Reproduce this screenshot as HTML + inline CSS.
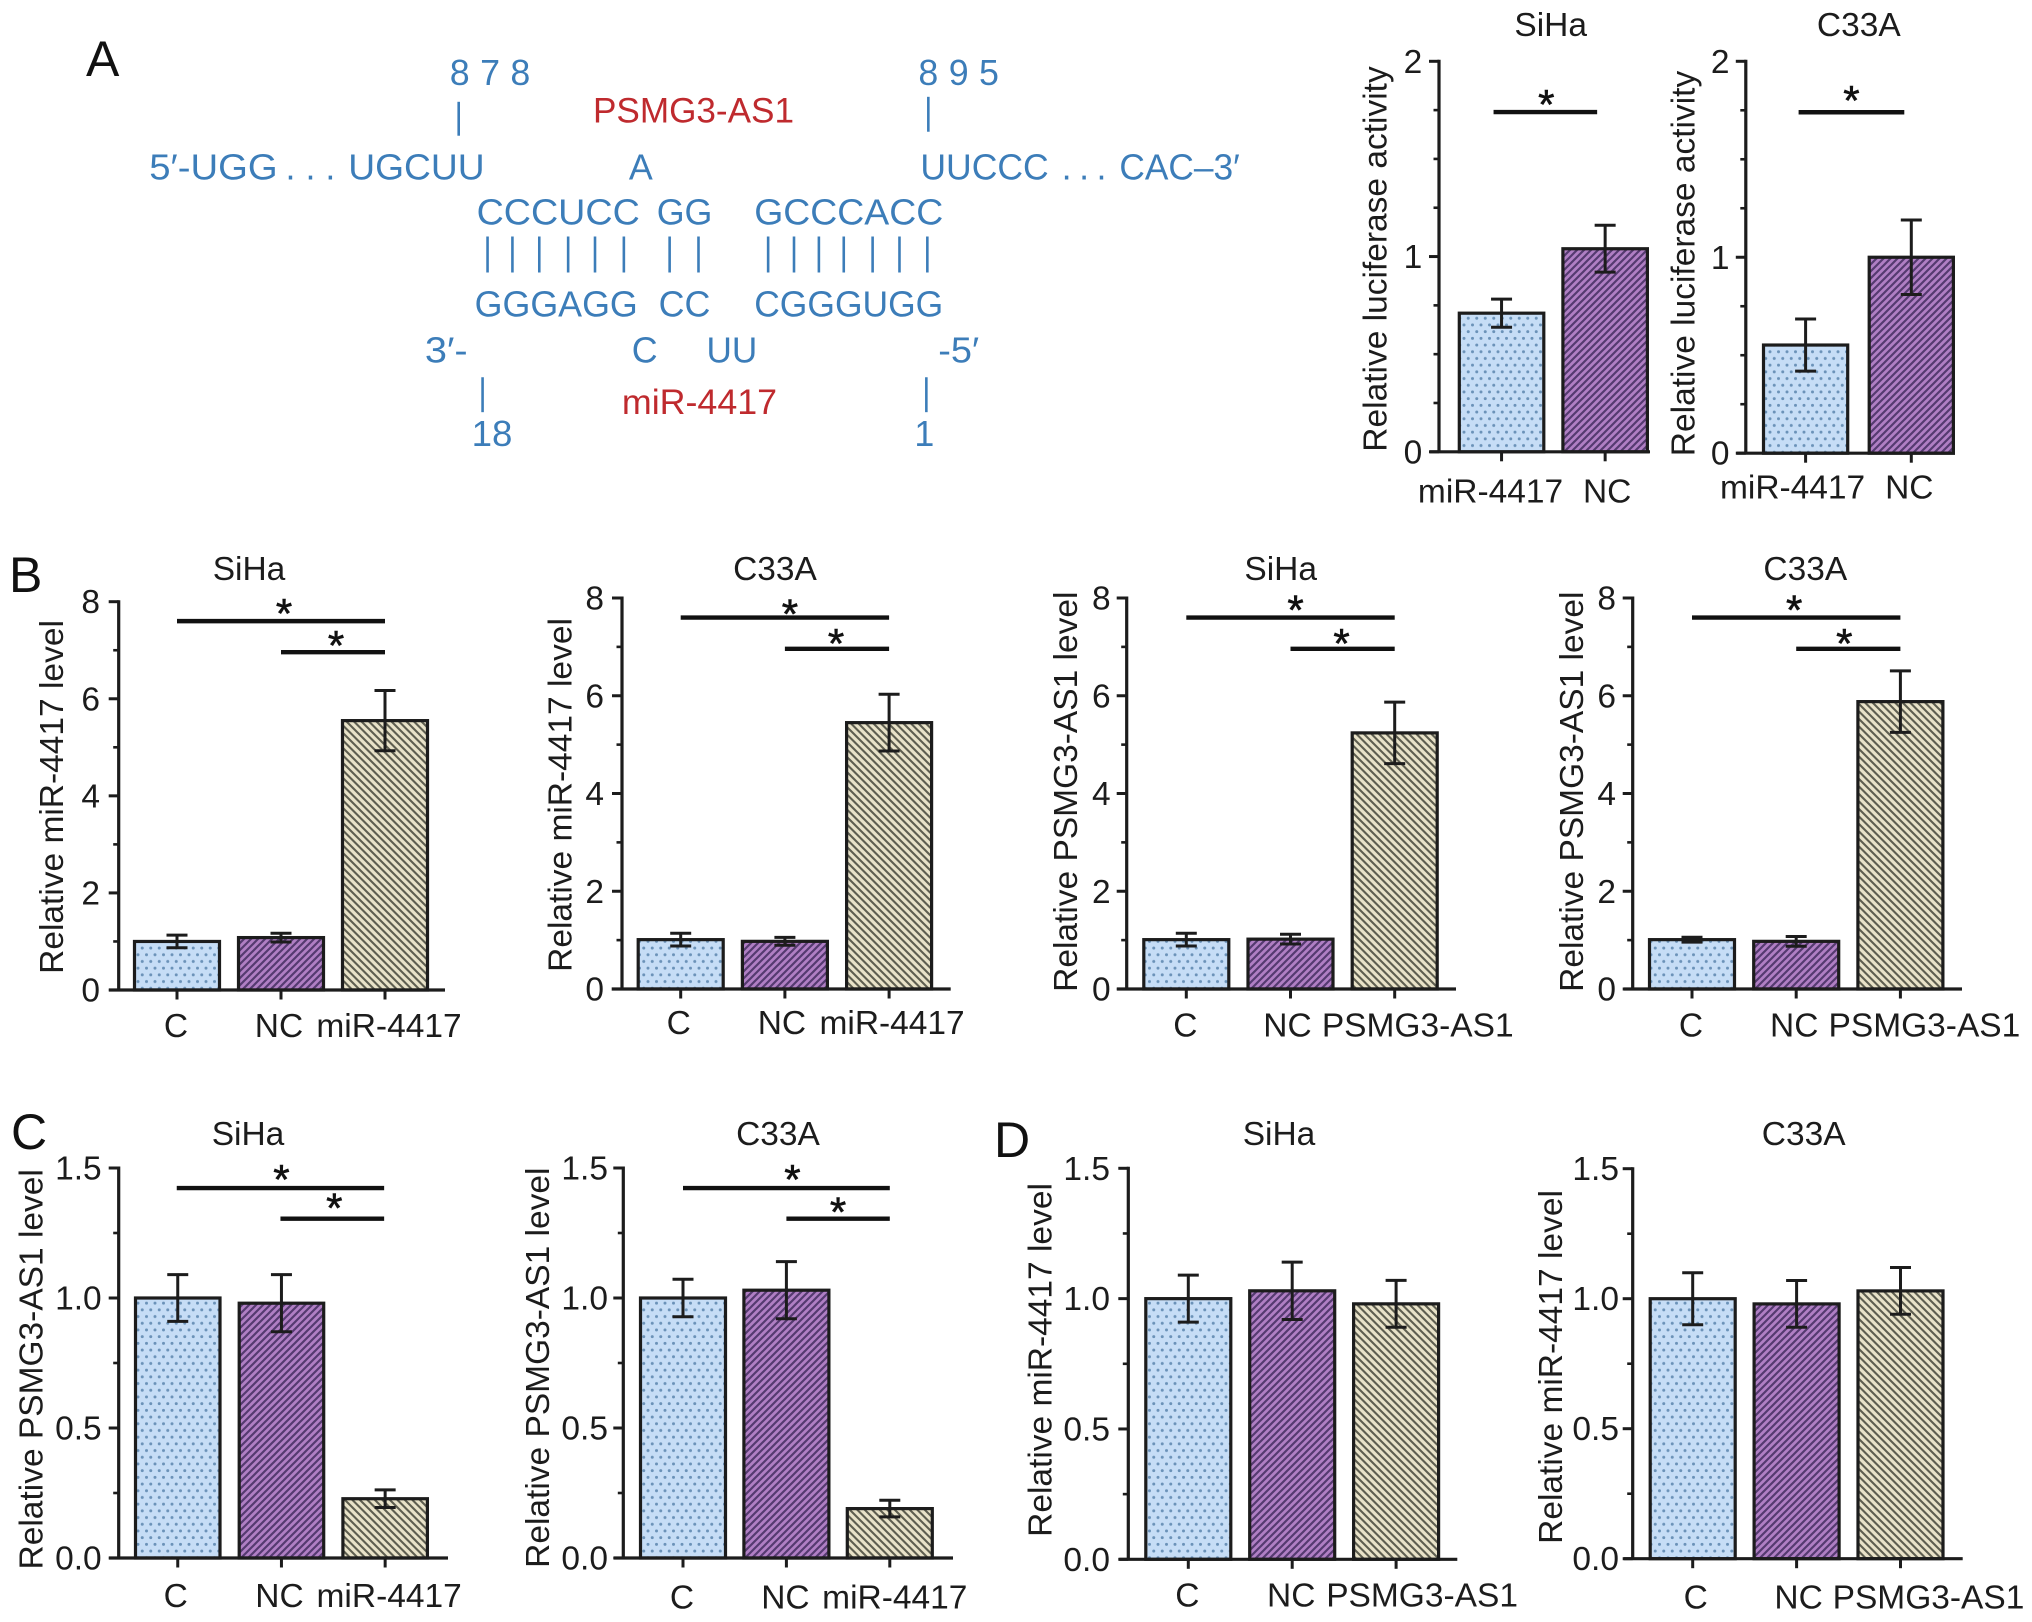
<!DOCTYPE html>
<html lang="en">
<head>
<meta charset="utf-8">
<title>PSMG3-AS1 and miR-4417 figure</title>
<style>
html,body{margin:0;padding:0;background:#fff;width:2032px;height:1622px;overflow:hidden}
svg{display:block}
text{font-family:"Liberation Sans",Arial,sans-serif}
.seq{fill:#3c7db9;font-size:36px}
.red{fill:#bf2a2e;font-size:35px}
.letter{fill:#111;font-size:50px}
.bp{stroke:#3c7db9;stroke-width:2.6}
</style>
</head>
<body>
<svg id="figure" xmlns="http://www.w3.org/2000/svg" width="2032" height="1622" viewBox="0 0 2032 1622">
<defs>
<pattern id="fill-dots" patternUnits="userSpaceOnUse" width="8.5" height="13.4">
<rect width="8.5" height="13.4" fill="#c6ddf6"/>
<circle cx="2" cy="3.3" r="1.5" fill="#6b92b8"/>
<circle cx="6.25" cy="10" r="1.5" fill="#6b92b8"/>
</pattern>
<pattern id="fill-purple" patternUnits="userSpaceOnUse" width="7" height="7">
<rect width="7" height="7" fill="#b07fc4"/>
<path d="M-1,1 L1,-1 M0,7 L7,0 M6,8 L8,6" stroke="#553a70" stroke-width="2.2"/>
</pattern>
<pattern id="fill-tan" patternUnits="userSpaceOnUse" width="7.5" height="7.5">
<rect width="7.5" height="7.5" fill="#e8e2c8"/>
<path d="M-1,6.5 L1,8.5 M0,0 L7.5,7.5 M6.5,-1 L8.5,1" stroke="#5e5e50" stroke-width="2.1"/>
</pattern>
</defs>

<rect width="2032" height="1622" fill="#fff"/>

<text class="letter" x="86" y="76">A</text>
<text class="letter" x="9" y="592">B</text>
<text class="letter" x="11" y="1149">C</text>
<text class="letter" x="994" y="1157">D</text>

<g transform="scale(0.995 0.998)">
<text class="seq" x="452" y="85" textLength="81" lengthAdjust="spacing">8 7 8</text>
<text class="seq" x="923" y="85" textLength="81" lengthAdjust="spacing">8 9 5</text>
<text class="red" x="596" y="123" textLength="202" lengthAdjust="spacingAndGlyphs">PSMG3-AS1</text>
<line class="bp" x1="461" y1="102" x2="461" y2="136"/>
<line class="bp" x1="933" y1="97" x2="933" y2="132"/>

<text class="seq" x="150" y="180" textLength="129" lengthAdjust="spacingAndGlyphs">5′-UGG</text>
<text class="seq" x="287" y="180" textLength="50" lengthAdjust="spacing">. . .</text>
<text class="seq" x="350" y="180" textLength="137" lengthAdjust="spacingAndGlyphs">UGCUU</text>
<text class="seq" x="632" y="180">A</text>
<text class="seq" x="925" y="180" textLength="129" lengthAdjust="spacingAndGlyphs">UUCCC</text>
<text class="seq" x="1067" y="180" textLength="45" lengthAdjust="spacing">. . .</text>
<text class="seq" x="1125" y="180" textLength="121" lengthAdjust="spacingAndGlyphs">CAC–3′</text>

<text class="seq" x="479" y="225" textLength="164" lengthAdjust="spacingAndGlyphs">CCCUCC</text>
<text class="seq" x="660" y="225" textLength="56" lengthAdjust="spacingAndGlyphs">GG</text>
<text class="seq" x="758" y="225" textLength="190" lengthAdjust="spacingAndGlyphs">GCCCACC</text>

<g>
<path class="bp" d="M490 237V273M515 237V273M542 237V273M571 237V273M598 237V273M627 237V273M673 237V273M702 237V273M772 237V273M798 237V273M823 237V273M848 237V273M877 237V273M904 237V273M932 237V273" fill="none"/>
</g>

<text class="seq" x="477" y="317" textLength="164" lengthAdjust="spacingAndGlyphs">GGGAGG</text>
<text class="seq" x="662" y="317" textLength="52" lengthAdjust="spacingAndGlyphs">CC</text>
<text class="seq" x="758" y="317" textLength="190" lengthAdjust="spacingAndGlyphs">CGGGUGG</text>

<text class="seq" x="427" y="363" textLength="43" lengthAdjust="spacingAndGlyphs">3′-</text>
<text class="seq" x="635" y="363">C</text>
<text class="seq" x="710" y="363" textLength="51" lengthAdjust="spacingAndGlyphs">UU</text>
<text class="seq" x="943" y="363" textLength="41" lengthAdjust="spacingAndGlyphs">-5′</text>

<line class="bp" x1="485" y1="378" x2="485" y2="413"/>
<line class="bp" x1="931" y1="378" x2="931" y2="413"/>
<text class="red" x="625" y="415" textLength="156" lengthAdjust="spacingAndGlyphs">miR-4417</text>
<text class="seq" x="474" y="447" textLength="41" lengthAdjust="spacingAndGlyphs">18</text>
<text class="seq" x="919" y="447">1</text>
</g>
</svg>

<script>
// Categories
const catsLuciferase = ['miR-4417', 'NC'];
const catsMir = ['C', 'NC', 'miR-4417'];
const catsPsmg = ['C', 'NC', 'PSMG3-AS1'];

// Tick labels
const ticksTwo = ['0', '1', '2'];
const ticksEight = ['0', '2', '4', '6', '8'];
const ticksOneFive = ['0.0', '0.5', '1.0', '1.5'];

// Series means and error half-widths
const aSihaValues = [0.71, 1.04];
const aSihaErrors = [0.072, 0.12];
const aC33aValues = [0.552, 1.0];
const aC33aErrors = [0.133, 0.19];

const bSihaMirValues = [1.0, 1.08];
const bSihaMirErrors = [0.13, 0.09];
const bC33aMirValues = [1.01, 0.975];
const bC33aMirErrors = [0.13, 0.08];
const bSihaPsmgValues = [1.01, 1.02];
const bSihaPsmgErrors = [0.13, 0.1];
const bC33aPsmgValues = [1.01, 0.975];
const bC33aPsmgErrors = [0.05, 0.1];
const bSihaMirThird = [5.55, 0.62];
const bC33aMirThird = [5.45, 0.58];
const bSihaPsmgThird = [5.24, 0.63];
const bC33aPsmgThird = [5.88, 0.63];

const cSihaValues = [1.0, 0.98, 0.228];
const cSihaErrors = [0.09, 0.11, 0.034];
const cC33aValues = [1.0, 1.03, 0.19];
const cC33aErrors = [0.072, 0.11, 0.032];

const dSihaValues = [1.0, 1.03, 0.98];
const dSihaErrors = [0.09, 0.11, 0.09];
const dC33aValues = [1.0, 0.98, 1.03];
const dC33aErrors = [0.1, 0.09, 0.09];

// Significance comparisons: [from category, to category, axis level]
const sigLuciferase = [[0, 1, 1.74]];
const sigEight = [[0, 2, 7.6], [1, 2, 6.96]];
const sigOneFive = [[0, 2, 1.423], [1, 2, 1.305]];
const sigNone = [];

const fills = ['url(#fill-dots)', 'url(#fill-purple)', 'url(#fill-tan)'];
const INK = '#1c1c1c';
const FONT = 33.5;
const NS = 'http://www.w3.org/2000/svg';
const root = document.getElementById('figure');

const charts = [
  {id:'a-siha', title:'SiHa', titleX:1550.7, titleY:36, yLabel:'Relative luciferase activity', yLabelX:1386.4, yLabelY:259,
   axisX:1439, yTop:61.3, yBot:451.8, xStart:1429.8, xEnd:1650, barStart:1457.8, barW:87.5, step:103.6,
   cats:catsLuciferase, labelDx:[-11,2], labelY:502.5, values:aSihaValues, errors:aSihaErrors,
   ticks:ticksTwo, minorDiv:4, tickRight:1422.3, sig:sigLuciferase, sigShift:-8, starDx:[1], starRise:[14]},
  {id:'a-c33a', title:'C33A', titleX:1858.8, titleY:36, yLabel:'Relative luciferase activity', yLabelX:1694.5, yLabelY:263.5,
   axisX:1745.8, yTop:61.3, yBot:453.2, xStart:1736.5, xEnd:1955, barStart:1762, barW:87.2, step:105.7,
   cats:catsLuciferase, labelDx:[-13,-2], labelY:498.5, values:aC33aValues, errors:aC33aErrors,
   ticks:ticksTwo, minorDiv:4, tickRight:1729.5, sig:sigLuciferase, sigShift:-7, starDx:[0], starRise:[18]},

  {id:'b-siha-mir', title:'SiHa', titleX:249, titleY:580, yLabel:'Relative miR-4417 level', yLabelX:63, yLabelY:797,
   axisX:118.7, yTop:601.7, yBot:990, xStart:109, xEnd:445, barStart:133, barW:88, step:104,
   cats:catsMir, labelDx:[-1,-2,4], labelY:1037, values:bSihaMirValues.concat(bSihaMirThird[0]), errors:bSihaMirErrors.concat(bSihaMirThird[1]),
   ticks:ticksEight, minorDiv:2, tickRight:100, sig:sigEight, sigShift:0, starDx:[3,3], starRise:[14,13]},
  {id:'b-c33a-mir', title:'C33A', titleX:775, titleY:580, yLabel:'Relative miR-4417 level', yLabelX:571.7, yLabelY:795,
   axisX:622, yTop:598, yBot:989, xStart:611.7, xEnd:950.7, barStart:636.7, barW:88, step:104.2,
   cats:catsMir, labelDx:[-2,-3,3], labelY:1034, values:bC33aMirValues.concat(bC33aMirThird[0]), errors:bC33aMirErrors.concat(bC33aMirThird[1]),
   ticks:ticksEight, minorDiv:2, tickRight:604, sig:sigEight, sigShift:0, starDx:[5,-1], starRise:[10,12]},
  {id:'b-siha-psmg', title:'SiHa', titleX:1280.7, titleY:580, yLabel:'Relative PSMG3-AS1 level', yLabelX:1077, yLabelY:791.7,
   axisX:1126.7, yTop:598, yBot:989, xStart:1117, xEnd:1456, barStart:1142.3, barW:88, step:104.2,
   cats:catsPsmg, labelDx:[-1,-3,23], labelY:1036.7, values:bSihaPsmgValues.concat(bSihaPsmgThird[0]), errors:bSihaPsmgErrors.concat(bSihaPsmgThird[1]),
   ticks:ticksEight, minorDiv:2, tickRight:1110.7, sig:sigEight, sigShift:0, starDx:[5,-1], starRise:[14,12]},
  {id:'b-c33a-psmg', title:'C33A', titleX:1805.3, titleY:580, yLabel:'Relative PSMG3-AS1 level', yLabelX:1583, yLabelY:791.7,
   axisX:1632.7, yTop:598, yBot:989, xStart:1623.7, xEnd:1962, barStart:1648, barW:88, step:104.2,
   cats:catsPsmg, labelDx:[-1,-2,24], labelY:1036.7, values:bC33aPsmgValues.concat(bC33aPsmgThird[0]), errors:bC33aPsmgErrors.concat(bC33aPsmgThird[1]),
   ticks:ticksEight, minorDiv:2, tickRight:1616, sig:sigEight, sigShift:0, starDx:[-2,-4], starRise:[14,12]},

  {id:'c-siha', title:'SiHa', titleX:248, titleY:1145, yLabel:'Relative PSMG3-AS1 level', yLabelX:42.7, yLabelY:1369.3,
   axisX:118.7, yTop:1168, yBot:1558, xStart:109, xEnd:448, barStart:134, barW:87.5, step:103.7,
   cats:catsMir, labelDx:[-2,-2,4], labelY:1607, values:cSihaValues, errors:cSihaErrors,
   ticks:ticksOneFive, minorDiv:2, tickRight:101.7, sig:sigOneFive, sigShift:-1, starDx:[1,2], starRise:[15,17]},
  {id:'c-c33a', title:'C33A', titleX:778, titleY:1145, yLabel:'Relative PSMG3-AS1 level', yLabelX:549, yLabelY:1367.7,
   axisX:623.3, yTop:1168, yBot:1558, xStart:614, xEnd:953, barStart:639, barW:88, step:103.4,
   cats:catsMir, labelDx:[-1,-1,5], labelY:1608.7, values:cC33aValues, errors:cC33aErrors,
   ticks:ticksOneFive, minorDiv:2, tickRight:608, sig:sigOneFive, sigShift:0, starDx:[6,0], starRise:[15,13]},

  {id:'d-siha', title:'SiHa', titleX:1279, titleY:1145, yLabel:'Relative miR-4417 level', yLabelX:1051.7, yLabelY:1360,
   axisX:1128.3, yTop:1168.3, yBot:1559.3, xStart:1119.3, xEnd:1457.3, barStart:1144.3, barW:88, step:103.9,
   cats:catsPsmg, labelDx:[-1,-1,26], labelY:1606.7, values:dSihaValues, errors:dSihaErrors,
   ticks:ticksOneFive, minorDiv:2, tickRight:1110, sig:sigNone, sigShift:0, starDx:[], starRise:[]},
  {id:'d-c33a', title:'C33A', titleX:1803.7, titleY:1145, yLabel:'Relative miR-4417 level', yLabelX:1562, yLabelY:1367,
   axisX:1632.7, yTop:1168.7, yBot:1558.7, xStart:1623.7, xEnd:1962.7, barStart:1648.7, barW:88, step:103.9,
   cats:catsPsmg, labelDx:[3,2,28], labelY:1608.7, values:dC33aValues, errors:dC33aErrors,
   ticks:ticksOneFive, minorDiv:2, tickRight:1619, sig:sigNone, sigShift:0, starDx:[], starRise:[]}
];

function make(parent, tag, attrs, content) {
  const node = document.createElementNS(NS, tag);
  for (const key in attrs) node.setAttribute(key, attrs[key]);
  if (content !== undefined) node.textContent = content;
  parent.appendChild(node);
  return node;
}

function drawChart(c) {
  const axisMax = parseFloat(c.ticks[c.ticks.length - 1]);
  const yScale = v => c.yBot - (v / axisMax) * (c.yBot - c.yTop);
  const xCenter = i => c.barStart + c.barW / 2 + i * c.step;

  const g = make(root, 'g', {});
  
  

  const title = make(g, 'text', {x:c.titleX, y:c.titleY, 'text-anchor':'middle', 'font-size':FONT, fill:INK}, c.title);
  
  

  const yTitle = make(g, 'text', {transform:'translate(' + c.yLabelX + ' ' + c.yLabelY + ') rotate(-90)', 'text-anchor':'middle', 'font-size':FONT, fill:INK}, c.yLabel);
  
  

  // bars
  c.values.forEach((v, i) => {
    const top = yScale(v);
    const bar = make(g, 'rect', {x:c.barStart + i * c.step + 1.5, y:top, width:c.barW - 3, height:Math.max(0, c.yBot - top), fill:fills[i], stroke:INK, 'stroke-width':3.2});
    
    
  });

  // error bars
  c.values.forEach((v, i) => {
    const hi = yScale(v + c.errors[i]);
    const lo = yScale(v - c.errors[i]);
    const cx = xCenter(i);
    const err = make(g, 'path', {d:'M' + (cx - 10.5) + ' ' + hi + 'H' + (cx + 10.5) + 'M' + cx + ' ' + hi + 'V' + lo + 'M' + (cx - 10.5) + ' ' + lo + 'H' + (cx + 10.5), fill:'none', stroke:INK, 'stroke-width':3});
    
    
  });

  // y axis
  const yAxis = make(g, 'line', {x1:c.axisX, y1:c.yTop - 1.5, x2:c.axisX, y2:c.yBot, stroke:INK, 'stroke-width':3.2});
  
  

  c.ticks.forEach((label, k) => {
    const v = parseFloat(label);
    const y = yScale(v);
    const tick = make(g, 'line', {x1:c.axisX - 10, y1:y, x2:c.axisX, y2:y, stroke:INK, 'stroke-width':3});
    
    
    const text = make(g, 'text', {x:c.tickRight, y:y + 11.5, 'text-anchor':'end', 'font-size':FONT, fill:INK}, label);
    
    
    if (k < c.ticks.length - 1) {
      const next = parseFloat(c.ticks[k + 1]);
      for (let m = 1; m < c.minorDiv; m++) {
        const my = yScale(v + (next - v) * m / c.minorDiv);
        const minor = make(g, 'line', {x1:c.axisX - 5.5, y1:my, x2:c.axisX, y2:my, stroke:INK, 'stroke-width':2.6});
        
        
      }
    }
  });

  // x axis
  const xAxis = make(g, 'line', {x1:c.xStart, y1:c.yBot, x2:c.xEnd, y2:c.yBot, stroke:INK, 'stroke-width':3.2});
  
  

  c.cats.forEach((cat, i) => {
    const cx = xCenter(i);
    const tick = make(g, 'line', {x1:cx, y1:c.yBot, x2:cx, y2:c.yBot + 9.5, stroke:INK, 'stroke-width':3});
    
    
    const text = make(g, 'text', {x:cx + c.labelDx[i], y:c.labelY, 'text-anchor':'middle', 'font-size':FONT, fill:INK}, cat);
    
    
  });

  // significance brackets
  c.sig.forEach((s, i) => {
    const x1 = xCenter(s[0]) + c.sigShift;
    const x2 = xCenter(s[1]) + c.sigShift;
    const y = yScale(s[2]);
    const line = make(g, 'line', {x1:x1, y1:y, x2:x2, y2:y, stroke:'#111', 'stroke-width':4.4});
    
    
    const star = make(g, 'text', {x:(x1 + x2) / 2 + c.starDx[i], y:y - c.starRise[i] + 21, 'text-anchor':'middle', 'font-size':42, fill:'#111', stroke:'#111', 'stroke-width':0.6}, '*');
    
    
  });
}

charts.forEach(drawChart);
</script>
</body>
</html>
